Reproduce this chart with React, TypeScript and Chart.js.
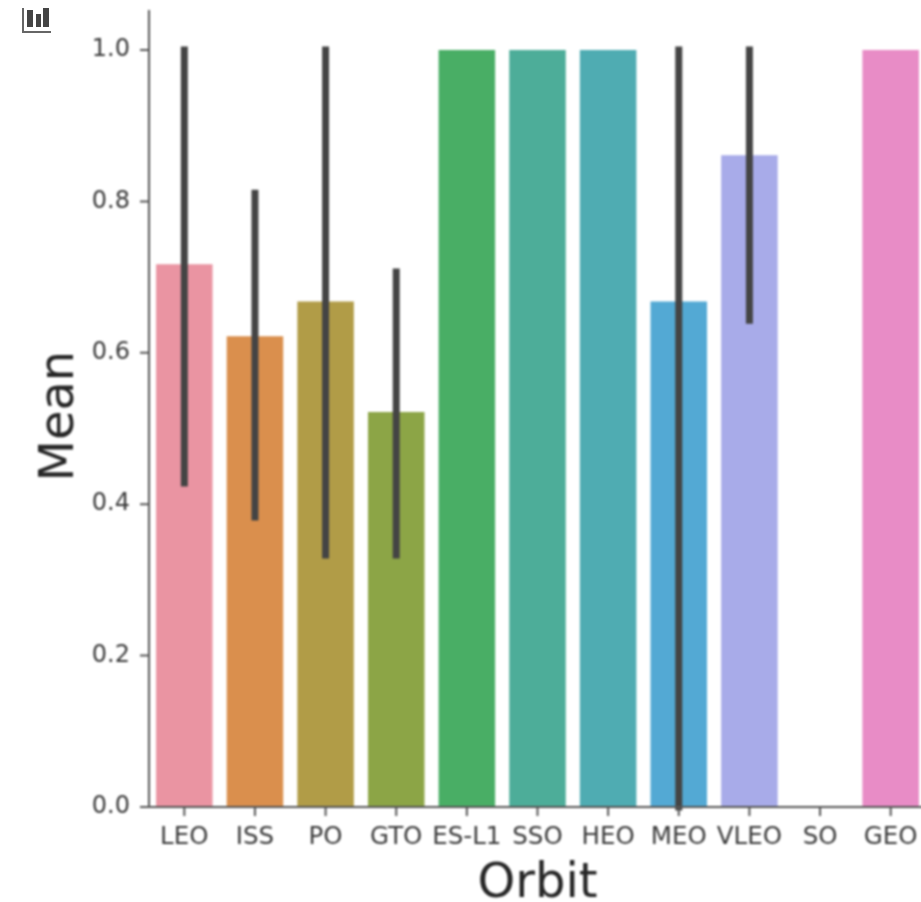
import React, { useEffect, useRef } from "react";
import { Chart, registerables } from "chart.js";

Chart.register(...registerables);

const categories = ["LEO", "ISS", "PO", "GTO", "ES-L1", "SSO", "HEO", "MEO", "VLEO", "SO", "GEO"];
const means = [0.717, 0.622, 0.668, 0.522, 1, 1, 1, 0.668, 0.861, 0, 1];
const errLow = [0.428, 0.383, 0.333, 0.333, null, null, null, 0, 0.643, null, null];
const errHigh = [1, 0.811, 1, 0.707, null, null, null, 1, 1, null, null];
const barColors = ["#ea94a2", "#da8f4d", "#b19c47", "#8ca546", "#49ae65", "#4dad99", "#4facb2", "#53a9d4", "#a8abe9", "#d0a0e8", "#e88cc6"];
const yTicks = [0, 0.2, 0.4, 0.6, 0.8, 1.0];

const inkColor = "#262626";
const tickText = "#3a3a3a";
const axisColor = "#555555";
const fontFamily = "'DejaVu Sans', sans-serif";
const tickMark = 9;

const spinesPlugin = {
  id: "spines",
  afterDraw(chart: any) {
    const { ctx, chartArea, scales } = chart;
    ctx.save();
    ctx.strokeStyle = axisColor;
    ctx.lineWidth = 2;
    ctx.beginPath();
    ctx.moveTo(chartArea.left, chartArea.top);
    ctx.lineTo(chartArea.left, chartArea.bottom);
    ctx.lineTo(chartArea.right, chartArea.bottom);
    scales.x.ticks.forEach((_: any, i: number) => {
      const px = scales.x.getPixelForTick(i);
      ctx.moveTo(px, chartArea.bottom);
      ctx.lineTo(px, chartArea.bottom + tickMark);
    });
    scales.y.ticks.forEach((_: any, i: number) => {
      const py = scales.y.getPixelForTick(i);
      ctx.moveTo(chartArea.left, py);
      ctx.lineTo(chartArea.left - tickMark, py);
    });
    ctx.stroke();
    ctx.restore();
  },
};

export default function App() {
  const ref = useRef<HTMLCanvasElement | null>(null);

  useEffect(() => {
    const canvas = ref.current;
    if (!canvas) return;
    const errorDatasets = categories.flatMap((c, i) =>
      errLow[i] === null
        ? []
        : [
            {
              type: "line" as const,
              data: [
                { x: c, y: errLow[i] },
                { x: c, y: errHigh[i] },
              ],
              borderColor: "#444444",
              borderWidth: 7,
              borderCapStyle: "square" as const,
              pointRadius: 0,
              clip: false as const,
              order: 0,
            },
          ]
    );
    const chart = new Chart(canvas, {
      type: "bar",
      plugins: [spinesPlugin],
      data: {
        labels: categories,
        datasets: [
          {
            type: "bar" as const,
            data: means,
            backgroundColor: barColors,
            borderWidth: 0,
            categoryPercentage: 1,
            barPercentage: 0.8,
            order: 1,
          },
          ...errorDatasets,
        ] as any,
      },
      options: {
        responsive: false,
        animation: false,
        devicePixelRatio: 1,
        layout: { padding: { top: 10, right: 0, bottom: 0, left: 0 } },
        plugins: { legend: { display: false }, tooltip: { enabled: false }, title: { display: false } },
        scales: {
          x: {
            type: "category",
            afterFit: (s: any) => {
              s.height = 95;
            },
            grid: { display: true, offset: false, drawOnChartArea: false, drawTicks: true, tickLength: tickMark, color: "rgba(0,0,0,0)" },
            border: { display: false },
            ticks: { color: tickText, font: { family: fontFamily, size: 24.5 }, padding: 7, autoSkip: false, maxRotation: 0 },
            title: {
              display: true,
              text: "Orbit",
              color: inkColor,
              font: { family: fontFamily, size: 48 },
              padding: { top: 0, bottom: -11 },
            },
          },
          y: {
            type: "linear",
            min: 0,
            max: 1.053,
            afterFit: (s: any) => {
              s.width = 149;
              s.paddingTop = 0;
              s.paddingBottom = 0;
            },
            afterBuildTicks: (s: any) => {
              s.ticks = yTicks.map((value) => ({ value }));
            },
            grid: { display: true, drawOnChartArea: false, drawTicks: true, tickLength: tickMark, color: "rgba(0,0,0,0)" },
            border: { display: false },
            ticks: {
              color: tickText,
              font: { family: fontFamily, size: 24 },
              padding: 10,
              callback: (v: any) => Number(v).toFixed(1),
            },
            title: {
              display: true,
              text: "Mean ",
              color: inkColor,
              font: { family: fontFamily, size: 48 },
              padding: { top: 32, bottom: 0 },
            },
          },
        },
      },
    } as any);
    return () => chart.destroy();
  }, []);

  return (
    <div style={{ position: "fixed", left: 0, top: 0, width: 921, height: 902, overflow: "hidden", background: "#fff" }}>
      <canvas ref={ref} width={926} height={902} style={{ display: "block", filter: "blur(1px)" }} />
      <svg width={34} height={30} style={{ position: "absolute", left: 20, top: 6, filter: "blur(0.7px)" }}>
        <path d="M3 2V26H31" fill="none" stroke="#666" strokeWidth={2} />
        <rect x={7} y={4} width={6} height={17} fill="#444" />
        <rect x={16} y={8} width={5} height={13} fill="#444" />
        <rect x={23} y={2} width={6} height={19} fill="#444" />
      </svg>
    </div>
  );
}
